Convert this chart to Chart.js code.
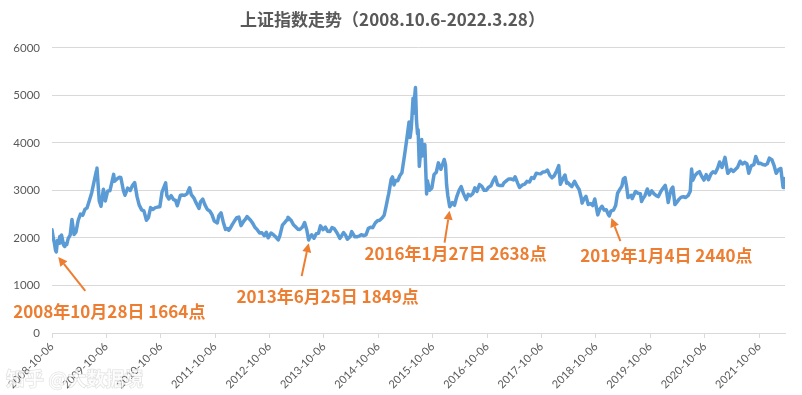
<!DOCTYPE html>
<html><head><meta charset="utf-8">
<script src="https://cdn.jsdelivr.net/npm/chart.js@4"></script>
<style>html,body{margin:0;padding:0;background:#fff}#wrap{width:802px;height:395px}</style>
</head><body><div id="wrap"><canvas id="c" width="802" height="395"></canvas></div>
<script>
const START = '2008-10-06';
const END = '2022-03-28';
const titleText = '上证指数走势（2008.10.6-2022.3.28）';

const dates = [
'2008-10-06','2008-10-15','2008-10-22','2008-10-28','2008-10-31','2008-11-04','2008-11-12','2008-11-24','2008-11-27','2008-12-03','2008-12-09','2008-12-23','2008-12-31',
'2009-01-05','2009-01-13','2009-01-23','2009-02-05','2009-02-17','2009-03-03','2009-03-16','2009-03-31','2009-04-15','2009-04-30','2009-05-15','2009-05-29','2009-06-15','2009-06-30','2009-07-15','2009-07-31','2009-08-04','2009-08-19','2009-08-31','2009-09-16','2009-09-29','2009-10-15','2009-10-30','2009-11-13','2009-11-24','2009-11-30','2009-12-15','2009-12-31',
'2010-01-11','2010-01-29','2010-02-08','2010-02-26','2010-03-15','2010-03-31','2010-04-14','2010-04-30','2010-05-14','2010-05-31','2010-06-15','2010-07-02','2010-07-15','2010-07-30','2010-08-13','2010-08-31','2010-09-15','2010-09-30','2010-10-15','2010-11-08','2010-11-16','2010-11-30','2010-12-15','2010-12-31',
'2011-01-14','2011-01-25','2011-02-15','2011-02-28','2011-03-15','2011-03-31','2011-04-18','2011-04-29','2011-05-16','2011-05-31','2011-06-20','2011-06-30','2011-07-15','2011-07-29','2011-08-15','2011-08-31','2011-09-15','2011-09-30','2011-10-21','2011-10-31','2011-11-15','2011-11-30','2011-12-15','2011-12-30',
'2012-01-06','2012-01-16','2012-01-31','2012-02-15','2012-02-29','2012-03-13','2012-03-28','2012-04-16','2012-04-27','2012-05-07','2012-05-31','2012-06-15','2012-06-29','2012-07-16','2012-07-31','2012-08-15','2012-08-31','2012-09-14','2012-09-26','2012-10-15','2012-10-31','2012-11-15','2012-12-03','2012-12-14','2012-12-31',
'2013-01-15','2013-01-31','2013-02-06','2013-02-28','2013-03-15','2013-03-29','2013-04-15','2013-04-26','2013-05-15','2013-05-29','2013-06-13','2013-06-25','2013-06-28','2013-07-15','2013-07-31','2013-08-15','2013-08-30','2013-09-12','2013-09-30','2013-10-15','2013-10-31','2013-11-15','2013-11-29','2013-12-13','2013-12-31',
'2014-01-15','2014-01-20','2014-01-30','2014-02-14','2014-02-28','2014-03-12','2014-03-31','2014-04-10','2014-04-30','2014-05-15','2014-05-30','2014-06-13','2014-06-30','2014-07-15','2014-07-31','2014-08-15','2014-08-29','2014-09-15','2014-09-30','2014-10-15','2014-10-31','2014-11-14','2014-11-28','2014-12-09','2014-12-15','2014-12-31',
'2015-01-09','2015-01-19','2015-01-30','2015-02-13','2015-02-27','2015-03-13','2015-03-31','2015-04-15','2015-04-30','2015-05-07','2015-05-15','2015-05-27','2015-05-28','2015-06-12','2015-06-19','2015-06-26','2015-06-30','2015-07-08','2015-07-24','2015-07-27','2015-08-14','2015-08-26','2015-08-31','2015-09-15','2015-09-30','2015-10-15','2015-10-30','2015-11-13','2015-11-30','2015-12-22','2015-12-31',
'2016-01-07','2016-01-15','2016-01-28','2016-02-15','2016-02-29','2016-03-15','2016-03-31','2016-04-14','2016-04-29','2016-05-18','2016-05-31','2016-06-15','2016-06-30','2016-07-15','2016-07-29','2016-08-15','2016-08-31','2016-09-15','2016-09-30','2016-10-14','2016-10-31','2016-11-15','2016-11-29','2016-12-15','2016-12-30',
'2017-01-16','2017-01-26','2017-02-15','2017-02-28','2017-03-15','2017-03-31','2017-04-11','2017-04-28','2017-05-11','2017-05-31','2017-06-15','2017-06-30','2017-07-17','2017-07-31','2017-08-15','2017-08-31','2017-09-15','2017-09-29','2017-10-16','2017-10-31','2017-11-14','2017-11-30','2017-12-15','2017-12-29',
'2018-01-15','2018-01-29','2018-02-09','2018-02-28','2018-03-12','2018-03-23','2018-03-30','2018-04-16','2018-04-27','2018-05-15','2018-05-31','2018-06-15','2018-06-29','2018-07-05','2018-07-16','2018-07-31','2018-08-15','2018-08-31','2018-09-14','2018-09-28','2018-10-18','2018-10-31','2018-11-15','2018-11-30','2018-12-14','2018-12-28',
'2019-01-03','2019-01-15','2019-01-31','2019-02-15','2019-02-28','2019-03-15','2019-03-29','2019-04-08','2019-04-19','2019-04-30','2019-05-09','2019-05-31','2019-06-06','2019-06-14','2019-06-28','2019-07-15','2019-07-31','2019-08-08','2019-08-15','2019-08-30','2019-09-16','2019-09-30','2019-10-15','2019-10-31','2019-11-15','2019-11-29','2019-12-16','2019-12-31',
'2020-01-14','2020-01-23','2020-02-03','2020-02-14','2020-02-24','2020-03-05','2020-03-19','2020-03-31','2020-04-15','2020-04-30','2020-05-15','2020-05-29','2020-06-15','2020-06-30','2020-07-09','2020-07-17','2020-07-31','2020-08-14','2020-08-31','2020-09-15','2020-09-30','2020-10-15','2020-10-30','2020-11-16','2020-11-30','2020-12-15','2020-12-31',
'2021-01-13','2021-01-29','2021-02-18','2021-03-09','2021-03-31','2021-04-15','2021-04-30','2021-05-14','2021-05-31','2021-06-15','2021-06-30','2021-07-15','2021-07-28','2021-08-13','2021-08-31','2021-09-13','2021-09-30','2021-10-15','2021-10-29','2021-11-15','2021-11-30','2021-12-13','2021-12-31',
'2022-01-14','2022-01-28','2022-02-15','2022-02-28','2022-03-15','2022-03-21','2022-03-28'
];

const closes = [
2173,1995,1895,1771,1728,1706,1950,1888,2030,1900,2061,1850,1820,
1880,1863,1990,2060,2389,2071,2128,2373,2502,2477,2600,2632,2800,2959,3180,3412,3471,2786,2667,3026,2779,2990,2995,3187,3338,3195,3237,3277,
3273,2989,2899,3051,3000,3109,3166,2870,2697,2592,2570,2373,2425,2638,2600,2638,2650,2656,2971,3159,2894,2820,2890,2808,
2791,2677,2899,2905,2896,2928,3057,2911,2845,2743,2621,2762,2820,2701,2600,2568,2490,2359,2317,2468,2530,2333,2181,2199,
2163,2207,2292,2366,2428,2440,2260,2357,2397,2451,2373,2307,2225,2170,2103,2110,2047,2120,2004,2104,2069,2025,1959,2050,2269,
2325,2385,2434,2366,2278,2237,2181,2178,2230,2324,2162,1959,1979,2067,1994,2090,2098,2255,2175,2228,2141,2135,2220,2197,2116,
2027,1992,2033,2115,2056,1974,2033,2134,2026,2025,2039,2070,2048,2067,2202,2226,2217,2315,2364,2373,2420,2478,2683,2856,2938,3235,
3285,3116,3210,3203,3310,3372,3748,4084,4442,4112,4309,4941,4620,5166,4478,4192,4277,3507,4070,3725,3965,2927,3206,3005,3053,3338,3383,3580,3445,3651,3539,
3125,2900,2656,2746,2688,2864,3004,3082,2938,2807,2917,2887,2930,3054,2979,3125,3085,3002,3005,3064,3100,3207,3283,3117,3104,
3103,3159,3212,3242,3241,3223,3289,3155,3061,3117,3132,3192,3176,3273,3251,3361,3354,3349,3390,3393,3430,3317,3266,3307,
3410,3524,3130,3259,3326,3153,3169,3110,3082,3192,3095,3021,2847,2733,2814,2876,2705,2725,2682,2821,2486,2603,2668,2588,2593,2494,
2464,2570,2585,2682,2941,3022,3091,3244,3270,3078,2850,2899,2827,2882,2979,2942,2933,2768,2815,2886,3031,2905,2991,2929,2891,2871,2984,3050,
3106,2977,2746,2917,3031,3071,2702,2750,2812,2860,2868,2852,2890,2985,3450,3214,3310,3361,3396,3296,3218,3332,3225,3347,3392,3367,3473,
3598,3483,3696,3360,3442,3399,3447,3490,3615,3556,3591,3564,3361,3517,3544,3715,3568,3572,3547,3533,3564,3681,3640,
3521,3361,3446,3462,3064,3254,3214
];

const tickLabels = ['2008-10-06','2009-10-06','2010-10-06','2011-10-06','2012-10-06','2013-10-06','2014-10-06',
  '2015-10-06','2016-10-06','2017-10-06','2018-10-06','2019-10-06','2020-10-06','2021-10-06'];
const yTicks = [0,1000,2000,3000,4000,5000,6000];

const annDates = ['2008-10-28','2013-06-25','2016-01-27','2019-01-04'];
const annValues = [1664,1849,2638,2440];
const annTexts = ['2008年10月28日 1664点','2013年6月25日 1849点','2016年1月27日 2638点','2019年1月4日 2440点'];

const watermark = '知乎 @大数据境';

const dayOf = s => (Date.parse(s) - Date.parse(START)) / 86400000;
const points = dates.map((d, i) => ({x: dayOf(d), y: closes[i]}));

// pixel offsets (style) relative to the annotated point
const annLayout = [
  {tip:[3,3],  tail:[30,37],  text:[54,58]},
  {tip:[0,-2], tail:[-7,31],  text:[19,51]},
  {tip:[0,3],  tail:[-5,35],  text:[6,46]},
  {tip:[2,1],  tail:[11,24],  text:[57,38]}
];

const annPlugin = {
  id: 'ann',
  afterDatasetsDraw(chart) {
    const {ctx, scales: {x, y}} = chart;
    ctx.save();
    const col = '#ed7d31';
    annDates.forEach((d, i) => {
      const L = annLayout[i];
      const px = x.getPixelForValue(dayOf(d)), py = y.getPixelForValue(annValues[i]);
      const tx = px + L.tip[0], ty = py + L.tip[1];
      const sx = px + L.tail[0], sy = py + L.tail[1];
      const ang = Math.atan2(ty - sy, tx - sx);
      const hl = 9, hw = 4.5;
      const bx = tx - hl * Math.cos(ang), by = ty - hl * Math.sin(ang);
      ctx.strokeStyle = col; ctx.lineWidth = 2;
      ctx.beginPath(); ctx.moveTo(sx, sy); ctx.lineTo(bx, by); ctx.stroke();
      ctx.fillStyle = col;
      ctx.beginPath();
      ctx.moveTo(tx, ty);
      ctx.lineTo(bx + hw * Math.sin(ang), by - hw * Math.cos(ang));
      ctx.lineTo(bx - hw * Math.sin(ang), by + hw * Math.cos(ang));
      ctx.closePath(); ctx.fill();
      ctx.font = 'bold 17px "Noto Sans CJK SC"';
      ctx.textAlign = 'center'; ctx.textBaseline = 'middle';
      ctx.fillText(annTexts[i], px + L.text[0], py + L.text[1]);
    });
    ctx.restore();
  },
  afterDraw(chart) {
    const ctx = chart.ctx;
    ctx.save();
    ctx.font = 'bold 19px "Noto Sans CJK SC"';
    ctx.textAlign = 'left'; ctx.textBaseline = 'middle';
    ctx.lineWidth = 1;
    ctx.strokeStyle = 'rgba(140,140,140,0.3)';
    ctx.fillStyle = 'rgba(255,255,255,0.7)';
    ctx.strokeText(watermark, 6, 379);
    ctx.fillText(watermark, 6, 379);
    ctx.restore();
  }
};

new Chart(document.getElementById('c'), {
  type: 'line',
  data: {
    datasets: [{
      data: points,
      borderColor: '#5b9bd5',
      borderWidth: 3.5,
      pointRadius: 0,
      tension: 0,
      borderJoinStyle: 'round',
      borderCapStyle: 'round'
    }]
  },
  options: {
    responsive: false,
    animation: false,
    devicePixelRatio: 1,
    layout: {padding: {left: 0, right: 17, top: 0, bottom: 0}},
    plugins: {
      legend: {display: false},
      tooltip: {enabled: false},
      title: {
        display: true, text: titleText, color: '#595959',
        font: {family: '"Noto Sans CJK SC"', size: 17, weight: 'bold'},
        padding: {top: 9, bottom: 18.5}
      }
    },
    scales: {
      x: {
        type: 'linear', min: 0, max: dayOf(END),
        afterBuildTicks: s => { s.ticks = tickLabels.map(l => ({value: dayOf(l)})); },
        afterFit: s => { s.height = 62; },
        ticks: {
          autoSkip: false, minRotation: 45, maxRotation: 45, color: '#595959',
          font: {family: 'Lato', size: 11}, padding: 2,
          callback: (v, i) => tickLabels[i]
        },
        grid: {drawOnChartArea: false, color: '#d9d9d9', tickLength: 5},
        border: {color: '#d9d9d9'}
      },
      y: {
        min: 0, max: 6000,
        afterBuildTicks: s => { s.ticks = yTicks.map(v => ({value: v})); },
        afterFit: s => { s.width = 52; },
        ticks: {color: '#595959', font: {family: 'Lato', size: 11.5}, padding: 12,
          callback: v => String(v)},
        grid: {color: '#d9d9d9', drawTicks: false},
        border: {display: false}
      }
    }
  },
  plugins: [annPlugin]
});
</script>
</body></html>
